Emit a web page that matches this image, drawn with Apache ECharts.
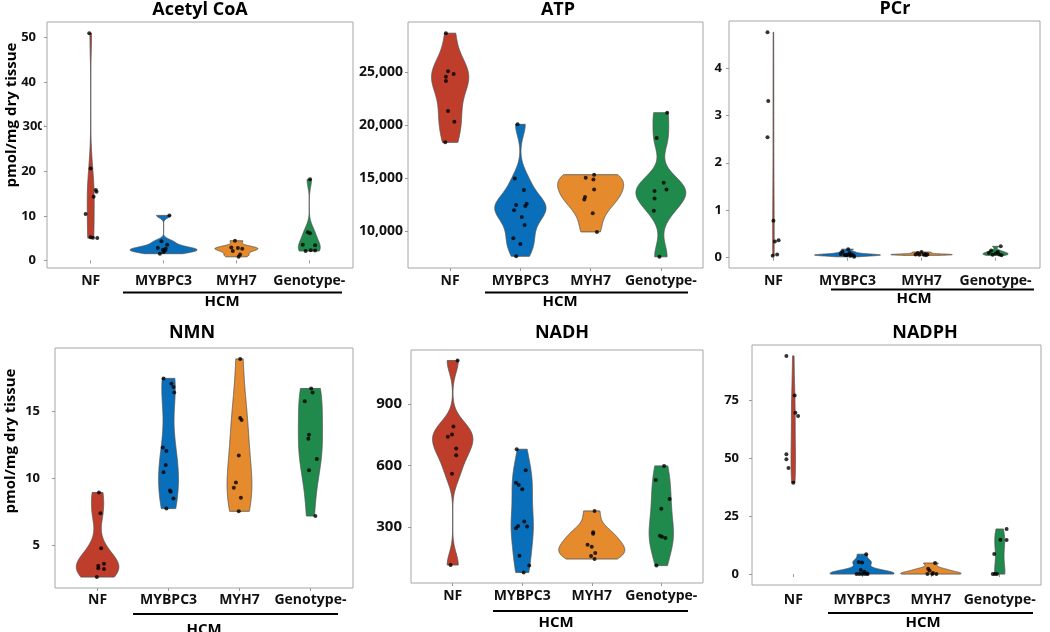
<!DOCTYPE html>
<html><head><meta charset="utf-8">
<script src="https://cdn.jsdelivr.net/npm/echarts@6/dist/echarts.min.js"></script>
<style>html,body{margin:0;padding:0;background:#fff}#c{width:1050px;height:632px}</style>
</head><body><div id="c"></div>
<script>
// ---------- categories ----------
const groups = ['NF', 'MYBPC3', 'MYH7', 'Genotype-'];
const groupColors = ['#BF3E2B', '#0A6FBA', '#E68A2E', '#1F8A4C'];

// ---------- Acetyl CoA (pmol/mg dry tissue) ----------
const acetylNF      = [51.0, 20.6, 15.8, 15.4, 14.3, 10.4, 5.2, 5.1, 5.0];
const acetylMYBPC3  = [10.1, 4.3, 3.5, 2.8, 2.6, 2.4, 2.2, 1.9, 1.5];
const acetylMYH7    = [4.4, 2.9, 2.8, 2.6, 2.1, 1.3, 0.8];
const acetylGeno    = [18.2, 6.3, 6.1, 3.5, 3.4, 2.3, 2.2, 2.1];
const acetylJitter  = [
  [-0.02, 0, 0.07, 0.08, 0.04, -0.07, 0, 0.03, 0.09],
  [0.08, -0.03, 0.05, -0.08, 0.03, -0.01, 0.02, 0.0, -0.05],
  [-0.02, -0.07, 0.02, 0.08, -0.05, 0.05, 0.03],
  [0.01, -0.02, 0.01, -0.09, 0.08, 0.02, 0.08, -0.05]
];
const acetylTicks = [0, 10, 20, 30, 40, 50];

// ---------- ATP ----------
const atpNF     = [28650, 25050, 24800, 24550, 24150, 21300, 20300, 18350];
const atpMYBPC3 = [20050, 14950, 13850, 12550, 12450, 12350, 11950, 11300, 10550, 9300, 8750, 7600];
const atpMYH7   = [15300, 15000, 14850, 13900, 13200, 12950, 11650, 9900];
const atpGeno   = [21150, 18750, 14550, 13900, 13750, 13050, 11900, 7550];
const atpJitter = [
  [-0.06, -0.03, 0.05, -0.06, -0.06, -0.03, 0.06, -0.07],
  [-0.04, -0.08, 0.05, 0.09, -0.06, 0.07, -0.09, 0.02, 0.06, -0.1, 0, -0.06],
  [0.05, -0.07, 0.04, 0.05, -0.08, -0.09, 0.03, 0.09],
  [0.09, -0.06, 0.04, 0.08, -0.09, -0.09, -0.1, -0.02]
];
const atpTicks = [10000, 15000, 20000, 25000];

// ---------- PCr ----------
const pcrNF     = [4.75, 3.30, 2.54, 0.78, 0.37, 0.34, 0.07, 0.04];
const pcrMYBPC3 = [0.18, 0.13, 0.10, 0.08, 0.07, 0.06, 0.06, 0.05, 0.05, 0.04, 0.02];
const pcrMYH7   = [0.12, 0.10, 0.08, 0.07, 0.07, 0.06, 0.06, 0.05];
const pcrGeno   = [0.24, 0.15, 0.12, 0.10, 0.09, 0.07, 0.06, 0.05];
const pcrJitter = [
  [-0.08, -0.07, -0.08, 0, 0.07, 0.02, 0.05, -0.01],
  [0.01, -0.07, 0.03, -0.09, 0.05, -0.04, 0.0, 0.08, -0.02, 0.04, 0.09],
  [0.0, -0.05, 0.05, -0.08, 0.08, -0.03, 0.03, 0.06],
  [0.07, -0.06, 0.03, -0.09, 0.0, 0.05, -0.04, 0.08]
];
const pcrTicks = [0, 1, 2, 3, 4];

// ---------- NMN ----------
const nmnNF     = [8.95, 7.4, 4.8, 3.65, 3.5, 3.3, 3.25, 2.65];
const nmnMYBPC3 = [17.45, 17.05, 16.8, 16.4, 12.3, 12.05, 11.0, 10.45, 9.1, 9.0, 8.5, 7.75];
const nmnMYH7   = [18.9, 14.5, 14.35, 11.7, 9.7, 9.3, 8.55, 7.55];
const nmnGeno   = [16.7, 16.4, 15.75, 13.25, 12.95, 11.45, 10.6, 7.2];
const nmnJitter = [
  [0.02, 0.04, 0.05, 0.09, 0.01, 0.01, 0.09, -0.01],
  [-0.07, 0.04, 0.07, 0.08, -0.08, -0.03, -0.04, -0.07, 0.02, 0.03, 0.07, -0.03],
  [0.01, 0.01, 0.03, -0.01, -0.05, -0.08, 0.02, -0.01],
  [0.01, 0.03, -0.08, -0.02, -0.03, 0.09, -0.02, 0.07]
];
const nmnTicks = [5, 10, 15];

// ---------- NADH ----------
const nadhNF     = [1110, 790, 750, 740, 682, 650, 560, 116];
const nadhMYBPC3 = [679, 577, 516, 505, 484, 327, 306, 303, 295, 161, 113, 80];
const nadhMYH7   = [379, 275, 268, 214, 205, 174, 160, 145];
const nadhGeno   = [598, 529, 437, 389, 258, 254, 247, 113];
const nadhJitter = [
  [0.07, 0.01, -0.01, -0.07, 0.05, 0.05, -0.01, -0.03],
  [-0.08, 0.05, -0.09, -0.05, 0, 0.03, -0.06, 0.07, -0.09, -0.04, 0.1, 0.02],
  [0.04, 0.02, 0.02, -0.06, 0, 0.05, -0.01, 0.04],
  [0.04, -0.08, 0.12, 0, -0.02, 0.01, 0.06, -0.07]
];
const nadhTicks = [300, 600, 900];

// ---------- NADPH ----------
const nadphNF     = [94.3, 77.2, 69.7, 68.3, 51.8, 49.6, 45.9, 39.5];
const nadphMYBPC3 = [8.6, 5.2, 5.0, 1.8, 1.0, 0.3, 0, 0, 0, 0, 0];
const nadphMYH7   = [4.8, 2.3, 1.6, 0.5, 0, 0, 0];
const nadphGeno   = [19.5, 14.8, 14.7, 8.7, 0, 0, 0];
const nadphJitter = [
  [-0.1, 0.02, 0.03, 0.07, -0.1, -0.1, -0.07, 0],
  [0.06, -0.05, 0.0, -0.02, 0.03, 0.07, -0.08, -0.04, 0.0, 0.04, 0.08],
  [0.06, -0.04, -0.02, 0.03, -0.05, 0.02, 0.08],
  [0.1, 0.01, 0.1, -0.08, -0.1, -0.07, -0.04]
];
const nadphTicks = [0, 25, 50, 75];

// ---------- panel layout (positions/styles only); vw = widest extent of each violin, in category units ----------
const FONT = '"Open Sans", "Liberation Sans", sans-serif';
const panels = [
  { title: 'Acetyl CoA', data: [acetylNF, acetylMYBPC3, acetylMYH7, acetylGeno], jitter: acetylJitter, ticks: acetylTicks,
    vw: [0.095, 0.92, 0.59, 0.30],
    grid: { left: 47, top: 22, width: 306, height: 246 }, titleX: 200, titleY: 1, yMargin: 11, yFont: 13, xMargin: 6, fmt: v => (v === 30 ? '' : String(v)) },
  { title: 'ATP', data: [atpNF, atpMYBPC3, atpMYH7, atpGeno], jitter: atpJitter, ticks: atpTicks,
    vw: [0.53, 0.73, 0.94, 0.71],
    grid: { left: 408, top: 22, width: 295, height: 246 }, titleX: 558, titleY: 1, yMargin: 5, yFont: 14, xMargin: 6, fmt: v => v.toLocaleString('en-US') },
  { title: 'PCr', data: [pcrNF, pcrMYBPC3, pcrMYH7, pcrGeno], jitter: pcrJitter, ticks: pcrTicks,
    vw: [0.02, 0.89, 0.83, 0.34],
    grid: { left: 729, top: 21, width: 311, height: 247 }, titleX: 895, titleY: 0, yMargin: 7, yFont: 13, xMargin: 6, fmt: v => String(v) },
  { title: 'NMN', data: [nmnNF, nmnMYBPC3, nmnMYH7, nmnGeno], jitter: nmnJitter, ticks: nmnTicks,
    vw: [0.60, 0.28, 0.35, 0.34],
    grid: { left: 55, top: 348, width: 298, height: 240 }, titleX: 192, titleY: 324, yMargin: 15, yFont: 13, xMargin: 5, fmt: v => String(v) },
  { title: 'NADH', data: [nadhNF, nadhMYBPC3, nadhMYH7, nadhGeno], jitter: nadhJitter, ticks: nadhTicks,
    vw: [0.58, 0.32, 0.95, 0.35],
    grid: { left: 411, top: 350, width: 292, height: 233 }, titleX: 562, titleY: 324, yMargin: 9, yFont: 15, xMargin: 6, fmt: v => String(v) },
  { title: 'NADPH', data: [nadphNF, nadphMYBPC3, nadphMYH7, nadphGeno], jitter: nadphJitter, ticks: nadphTicks,
    vw: [0.065, 0.93, 0.88, 0.15],
    grid: { left: 752, top: 345, width: 289, height: 240 }, titleX: 925, titleY: 324, yMargin: 13, yFont: 13, xMargin: 8, fmt: v => String(v) }
];

// ---------- violin density (gaussian kernel, bw.nrd0, trimmed to data range) ----------
function quantile7(sorted, p) {
  const h = (sorted.length - 1) * p, lo = Math.floor(h);
  const hi = Math.min(lo + 1, sorted.length - 1);
  return sorted[lo] + (h - lo) * (sorted[hi] - sorted[lo]);
}
function bwNrd0(x) {
  const n = x.length;
  const m = x.reduce((a, b) => a + b, 0) / n;
  const sd = Math.sqrt(x.reduce((a, b) => a + (b - m) * (b - m), 0) / (n - 1));
  const s = x.slice().sort((a, b) => a - b);
  const iqr = quantile7(s, 0.75) - quantile7(s, 0.25);
  let lo = Math.min(sd, iqr / 1.34);
  if (!lo) lo = sd || Math.abs(s[0]) || 1;
  return 0.9 * lo * Math.pow(n, -0.2);
}
function densityProfile(x) {
  const bw = bwNrd0(x);
  const mn = Math.min(...x), mx = Math.max(...x);
  const N = 256, ys = [], ds = [];
  for (let k = 0; k < N; k++) {
    const y = mn + (mx - mn) * k / (N - 1);
    let d = 0;
    for (const xi of x) { const z = (y - xi) / bw; d += Math.exp(-0.5 * z * z); }
    ys.push(y); ds.push(d);
  }
  return { ys, ds };
}

const option = {
  animation: false,
  backgroundColor: '#fff',
  grid: [], xAxis: [], yAxis: [], series: [], graphic: []
};

panels.forEach((p, pi) => {
  const all = [].concat(...p.data);
  const lo = Math.min(...all), hi = Math.max(...all), rg = hi - lo;
  const yMin = lo - 0.05 * rg, yMax = hi + 0.05 * rg;

  option.grid.push(Object.assign({ show: true, borderColor: '#a6a6a6', borderWidth: 1, backgroundColor: 'transparent' }, p.grid));
  option.xAxis.push({
    type: 'value', gridIndex: pi, min: 0.4, max: 4.6,
    axisLine: { show: false }, splitLine: { show: false },
    axisTick: { show: true, customValues: [1, 2, 3, 4], length: 3, lineStyle: { color: '#999' } },
    axisLabel: { customValues: [1, 2, 3, 4], formatter: v => groups[Math.round(v) - 1], margin: p.xMargin,
      fontFamily: FONT, fontWeight: 'bold', fontSize: 14, color: '#111' }
  });
  option.yAxis.push({
    type: 'value', gridIndex: pi, min: yMin, max: yMax,
    axisLine: { show: false }, splitLine: { show: false },
    axisTick: { show: true, customValues: p.ticks, length: 3, lineStyle: { color: '#999' } },
    axisLabel: { customValues: p.ticks, formatter: p.fmt, margin: p.yMargin,
      fontFamily: FONT, fontWeight: 'bold', fontSize: p.yFont, color: '#111' }
  });

  const profiles = p.data.map(densityProfile);
  profiles.forEach((pr, gi) => {
    const m = Math.max(...pr.ds);
    pr.hw = pr.ds.map(d => 0.5 * p.vw[gi] * d / m);
  });

  option.series.push({
    type: 'custom', xAxisIndex: pi, yAxisIndex: pi, silent: true, z: 2,
    data: profiles.map((pr, gi) => [gi + 1, pr.ys[0], pr.ys[pr.ys.length - 1]]),
    encode: { x: 0, y: [1, 2] },
    renderItem: (params, api) => {
      const gi = params.dataIndex, pr = profiles[gi];
      const right = [], left = [];
      for (let k = 0; k < pr.ys.length; k++) {
        right.push(api.coord([gi + 1 + pr.hw[k], pr.ys[k]]));
        left.push(api.coord([gi + 1 - pr.hw[k], pr.ys[k]]));
      }
      return {
        type: 'polygon',
        shape: { points: right.concat(left.reverse()) },
        style: { fill: groupColors[gi], stroke: '#505050', lineWidth: 0.8 }
      };
    }
  });

  const pts = [];
  p.data.forEach((vals, gi) => vals.forEach((v, k) => pts.push([gi + 1 + p.jitter[gi][k], v])));
  option.series.push({
    type: 'scatter', xAxisIndex: pi, yAxisIndex: pi, silent: true, z: 3,
    symbol: 'circle', symbolSize: 4, itemStyle: { color: '#000' }, data: pts
  });

  option.graphic.push({
    type: 'text', x: p.titleX, y: p.titleY, silent: true,
    style: { text: p.title, font: 'bold 18px ' + FONT, fill: '#000', align: 'center', textAlign: 'center', verticalAlign: 'top', textVerticalAlign: 'top' }
  });
});

// ---------- annotations: y titles and HCM brackets ----------
const yTitle = 'pmol/mg dry tissue';
[[12, 115], [11, 441]].forEach(([x, y]) => option.graphic.push({
  type: 'text', x, y, rotation: Math.PI / 2, silent: true,
  style: { text: yTitle, font: 'bold 15px ' + FONT, fill: '#000', align: 'center', textAlign: 'center', verticalAlign: 'middle', textVerticalAlign: 'middle' }
}));
const hcm = [
  { x1: 123, x2: 342, y: 292.5, tx: 222, ty: 302 },
  { x1: 485, x2: 688, y: 292.5, tx: 560, ty: 302 },
  { x1: 831, x2: 1034, y: 289.5, tx: 914, ty: 299 },
  { x1: 133, x2: 338, y: 614, tx: 204, ty: 630 },
  { x1: 493, x2: 688, y: 611, tx: 556, ty: 623 },
  { x1: 828, x2: 1033, y: 613, tx: 923, ty: 623 }
];
hcm.forEach(h => {
  option.graphic.push({ type: 'line', silent: true, shape: { x1: h.x1, y1: h.y, x2: h.x2, y2: h.y }, style: { stroke: '#000', lineWidth: 2 } });
  option.graphic.push({ type: 'text', x: h.tx, y: h.ty, silent: true,
    style: { text: 'HCM', font: 'bold 15px ' + FONT, fill: '#000', align: 'center', textAlign: 'center', verticalAlign: 'middle', textVerticalAlign: 'middle' } });
});

const chart = echarts.init(document.getElementById('c'), null, { renderer: 'canvas' });
chart.setOption(option);

// clipped "300" tick label of the Acetyl CoA axis, as in the original
const y30 = chart.convertToPixel({ gridIndex: 0 }, [1, 30])[1];
chart.setOption({ graphic: option.graphic.concat([
  { type: 'text', x: 22.5, y: y30, silent: true, z: 10,
    style: { text: '300', font: 'bold 13px ' + FONT, fill: '#111', align: 'left', textAlign: 'left', verticalAlign: 'middle', textVerticalAlign: 'middle' } },
  { type: 'rect', silent: true, z: 11, shape: { x: 41.8, y: y30 - 8, width: 2.2, height: 16 }, style: { fill: '#fff' } }
]) });
</script></body></html>
